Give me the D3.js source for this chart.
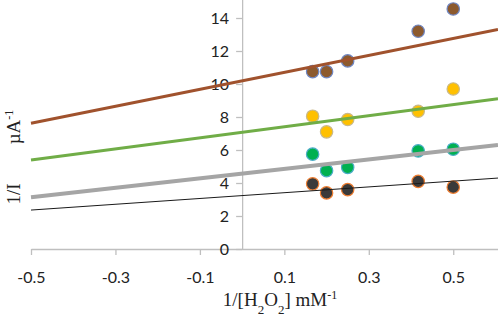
<!DOCTYPE html>
<html>
<head>
<meta charset="utf-8">
<script src="https://cdn.jsdelivr.net/npm/d3@7"></script>
<style>
  html, body { margin: 0; padding: 0; background: #fff; }
  #chart { width: 498px; height: 315px; }
</style>
</head>
<body>
<div id="chart"></div>
<script>
// 1/[H2O2] values (mM^-1) shared by every series
const xValues = [0.167, 0.2, 0.25, 0.417, 0.5];

// 1/I values (uA^-1) per series
const brownValues = [10.75, 10.75, 11.4, 13.2, 14.55];
const yellowValues = [8.05, 7.1, 7.85, 8.35, 9.7];
const greenValues = [5.75, 4.75, 4.95, 5.95, 6.05];
const darkValues = [3.95, 3.4, 3.6, 4.1, 3.75];

// trendline end points [x, y]
const brownTrend = [[-0.5, 7.62], [0.606, 13.3]];
const greenTrend = [[-0.5, 5.4], [0.606, 9.1]];
const grayTrend = [[-0.5, 3.13], [0.606, 6.3]];
const blackTrend = [[-0.5, 2.36], [0.606, 4.3]];

const xTicks = [-0.5, -0.3, -0.1, 0.1, 0.3, 0.5];
const yTicks = [0, 2, 4, 6, 8, 10, 12, 14];

const container = document.getElementById('chart');
const W = 498, H = 315;

const svg = d3.select(container)
    .append('svg')
    .attr('width', W)
    .attr('height', H);

// Scales
const x = d3.scaleLinear().domain([-0.5, 0.606]).range([31, 498]);
const y = d3.scaleLinear().domain([0, 15]).range([249, 1.5]);

const axisColor = '#bfbfbf';
const tickFont = 'Lato, "Open Sans", sans-serif';
const titleFont = '"Liberation Serif", "DejaVu Serif", serif';

// x axis at y = 0
const xAxisG = svg.append('g')
    .attr('transform', `translate(0,${y(0)})`)
    .call(d3.axisBottom(x).tickValues(xTicks).tickSize(6).tickSizeOuter(0)
        .tickFormat(d => d.toFixed(1)));
xAxisG.select('.domain').style('stroke', axisColor).style('stroke-width', 1.3);
xAxisG.selectAll('line').style('stroke', axisColor).style('stroke-width', 1.3);
xAxisG.selectAll('text')
    .attr('dy', '0.71em')
    .attr('y', 23)
    .style('font-family', tickFont)
    .style('font-size', '16px')
    .style('fill', '#222');

// y axis at x = 0
const yAxisG = svg.append('g')
    .attr('transform', `translate(${x(0)},0)`)
    .call(d3.axisLeft(y).tickValues(yTicks).tickSize(6).tickSizeOuter(0));
yAxisG.select('.domain').style('stroke', axisColor).style('stroke-width', 1.3)
    .attr('d', `M0.5,${y(0)}V0`);
yAxisG.selectAll('line').style('stroke', axisColor).style('stroke-width', 1.3);
yAxisG.selectAll('text')
    .attr('x', -13)
    .style('font-family', tickFont)
    .style('font-size', '16px')
    .style('fill', '#222');

// Scatter series
const series = [
    { values: brownValues, fill: '#8c5a2e', stroke: '#6f86c2' },
    { values: yellowValues, fill: '#ffc000', stroke: '#c9b98a' },
    { values: greenValues, fill: '#00b050', stroke: '#4bacc6' },
    { values: darkValues, fill: '#3a3a3a', stroke: '#ed7d31' }
];

series.forEach(s => {
    svg.append('g')
        .selectAll('circle')
        .data(s.values)
        .join('circle')
        .attr('cx', (d, i) => x(xValues[i]))
        .attr('cy', d => y(d))
        .attr('r', 6.2)
        .attr('fill', s.fill)
        .attr('stroke', s.stroke)
        .attr('stroke-width', 1.2);
});

// Trendlines
const line = d3.line().x(d => x(d[0])).y(d => y(d[1]));
const trends = [
    { pts: brownTrend, color: '#a0522d', width: 3 },
    { pts: greenTrend, color: '#70ad47', width: 3 },
    { pts: grayTrend, color: '#a5a5a5', width: 4 },
    { pts: blackTrend, color: '#1a1a1a', width: 1 }
];
trends.forEach(t => {
    svg.append('path')
        .attr('d', line(t.pts))
        .attr('fill', 'none')
        .attr('stroke', t.color)
        .attr('stroke-width', t.width);
});

// Axis titles
const xTitle = svg.append('text')
    .attr('x', 280)
    .attr('y', 306)
    .attr('text-anchor', 'middle')
    .style('font-family', titleFont)
    .style('font-size', '19px')
    .style('fill', '#222');
xTitle.append('tspan').text('1/[H');
xTitle.append('tspan').text('2').attr('baseline-shift', 'sub').style('font-size', '13px');
xTitle.append('tspan').text('O');
xTitle.append('tspan').text('2').attr('baseline-shift', 'sub').style('font-size', '13px');
xTitle.append('tspan').text('] mM');
xTitle.append('tspan').text('-1').attr('baseline-shift', 'super').style('font-size', '12px');

// y title: "1/I" low, "µA-1" higher, same rotated baseline
svg.append('text')
    .attr('transform', 'translate(20,194) rotate(-90)')
    .attr('text-anchor', 'middle')
    .style('font-family', titleFont)
    .style('font-size', '19px')
    .style('fill', '#222')
    .text('1/I');
const yTitle = svg.append('text')
    .attr('transform', 'translate(20,127) rotate(-90)')
    .attr('text-anchor', 'middle')
    .style('font-family', titleFont)
    .style('font-size', '19px')
    .style('fill', '#222');
yTitle.append('tspan').text('\u00b5A');
yTitle.append('tspan').text('-1').attr('baseline-shift', 'super').style('font-size', '12px');
</script>
</body>
</html>
